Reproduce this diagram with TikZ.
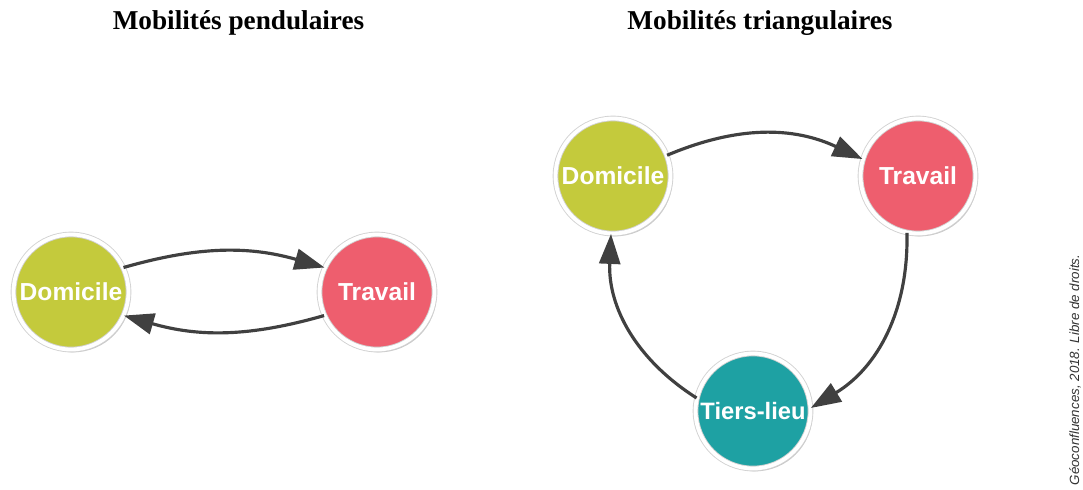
\documentclass[tikz,border=0pt]{standalone}
\usepackage{fontspec}
\setmainfont{Liberation Serif}
\newfontfamily\lieufont{Liberation Sans}
\usepackage{tikz}
\usetikzlibrary{shapes,arrows.meta,positioning,shadows,calc}

\definecolor{domcol}{HTML}{C4CA3C}
\definecolor{travcol}{HTML}{EE5E6E}
\definecolor{tiercol}{HTML}{1EA1A3}
\definecolor{flechecol}{HTML}{404040}

\begin{document}
\begin{tikzpicture}[
    lieu/.style={circle, draw=black!18, line width=0.5pt, double=white, double distance=2.2pt,
      minimum size=2.3cm, inner sep=0pt,
      drop shadow={shadow xshift=1.2pt, shadow yshift=-1.6pt, opacity=0.3, fill=black!70},
      text=white, font=\lieufont\bfseries\fontsize{14}{16}\selectfont},
    trajet/.style={-{Triangle[length=0.6cm, width=0.42cm]}, line width=1.8pt, draw=flechecol},
    titre/.style={font=\bfseries\fontsize{15.5}{18}\selectfont}
  ]
    \useasboundingbox (0,0) rectangle (21.66,9.78);

    % Titles
    \node[titre] (titrep) at (4.77,9.32) {Mobilités pendulaires};
    \node[titre] (titret) at (15.2,9.32) {Mobilités triangulaires};

    % Pendular mobility
    \node[lieu, fill=domcol] (pdom) at (1.42,3.94) {Domicile};
    \node[lieu, fill=travcol] (ptrav) at (7.54,3.94) {Travail};
    \draw[trajet] (pdom.25) to[bend left=16] (ptrav.155);
    \draw[trajet] (ptrav.204) to[bend left=16] (pdom.-24);

    % Triangular mobility
    \node[lieu, fill=domcol] (tdom) at (12.26,6.26) {Domicile};
    \node[lieu, fill=travcol] (ttrav) at (18.36,6.26) {Travail};
    \node[lieu, fill=tiercol, font=\lieufont\bfseries\fontsize{13.5}{16}\selectfont] (ttier) at (15.06,1.56) {Tiers-lieu};
    \draw[trajet] (tdom.21) to[bend left=24] (ttrav.163);
    \draw[trajet] (ttrav.259) to[bend left=30] (ttier.3);
    \draw[trajet] (ttier.167) to[bend left=30] (tdom.268);

    % Credit
    \node[rotate=90, font=\lieufont\itshape\fontsize{7.6}{9}\selectfont, text=black!80] (credit) at (21.5,2.38) {Géoconfluences, 2018. Libre de droits.};
\end{tikzpicture}
\end{document}
